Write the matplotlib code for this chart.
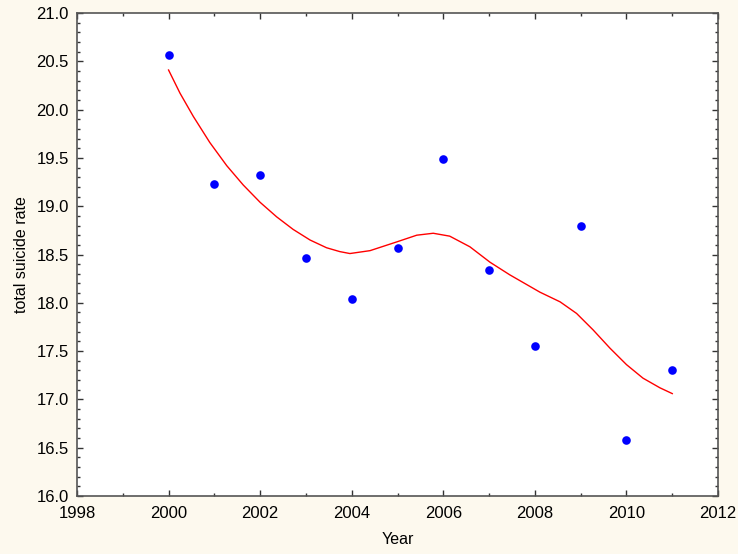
import numpy as np
import matplotlib.pyplot as plt
from matplotlib.ticker import MultipleLocator

plt.rcParams['font.family'] = ['Liberation Sans', 'DejaVu Sans']

# observed rates
years = [2000, 2001, 2002, 2003, 2004, 2005, 2006, 2007, 2008, 2009, 2010, 2011]
rate = [20.57, 19.23, 19.32, 18.46, 18.04, 18.57, 19.49, 18.34, 17.55, 18.80, 16.58, 17.30]

# smoothed fit
fit_x = [2000.0, 2000.25, 2000.54, 2000.90, 2001.27, 2001.63, 2002.0, 2002.36,
         2002.72, 2003.09, 2003.45, 2003.74, 2003.96, 2004.40, 2004.98, 2005.42,
         2005.78, 2006.14, 2006.58, 2007.02, 2007.45, 2007.89, 2008.11, 2008.55,
         2008.91, 2009.27, 2009.64, 2010.0, 2010.36, 2010.73, 2011.0]
fit_y = [20.41, 20.17, 19.93, 19.66, 19.42, 19.22, 19.04, 18.89,
         18.76, 18.65, 18.57, 18.53, 18.51, 18.54, 18.63, 18.70,
         18.72, 18.69, 18.58, 18.42, 18.29, 18.17, 18.11, 18.01,
         17.89, 17.72, 17.53, 17.36, 17.22, 17.12, 17.06]

bg = '#fdf9ee'
fig = plt.figure(figsize=(7.38, 5.54), dpi=100, facecolor=bg)
ax = fig.add_axes([0.1043, 0.1047, 0.8687, 0.8718])
ax.set_facecolor('white')

ax.plot(fit_x, fit_y, '-', color='#ff0000', linewidth=1.0)
ax.plot(years, rate, 'o', color='#0000ff', markersize=6.2, markeredgewidth=0)

ax.set_xlim(1998, 2012)
ax.set_ylim(16.0, 21.0)
ax.xaxis.set_major_locator(MultipleLocator(2))
ax.xaxis.set_minor_locator(MultipleLocator(1))
ax.yaxis.set_major_locator(MultipleLocator(0.5))
ax.yaxis.set_minor_locator(MultipleLocator(0.1))
ax.yaxis.set_major_formatter(plt.FormatStrFormatter('%.1f'))
ax.tick_params(which='both', direction='in', top=True, right=True,
               colors='#333333', labelcolor='black', labelsize=12, width=1)
ax.tick_params(axis='x', which='major', length=4, pad=7)
ax.tick_params(axis='y', which='major', length=4, pad=6)
ax.tick_params(which='minor', length=2)
for s in ax.spines.values():
    s.set_color('#555555')
    s.set_linewidth(1.2)

ax.set_xlabel('Year', fontsize=11.5, labelpad=8)
ax.set_ylabel('total suicide rate', fontsize=11.5, labelpad=5)

plt.savefig('out.png', dpi=100, facecolor=bg)
